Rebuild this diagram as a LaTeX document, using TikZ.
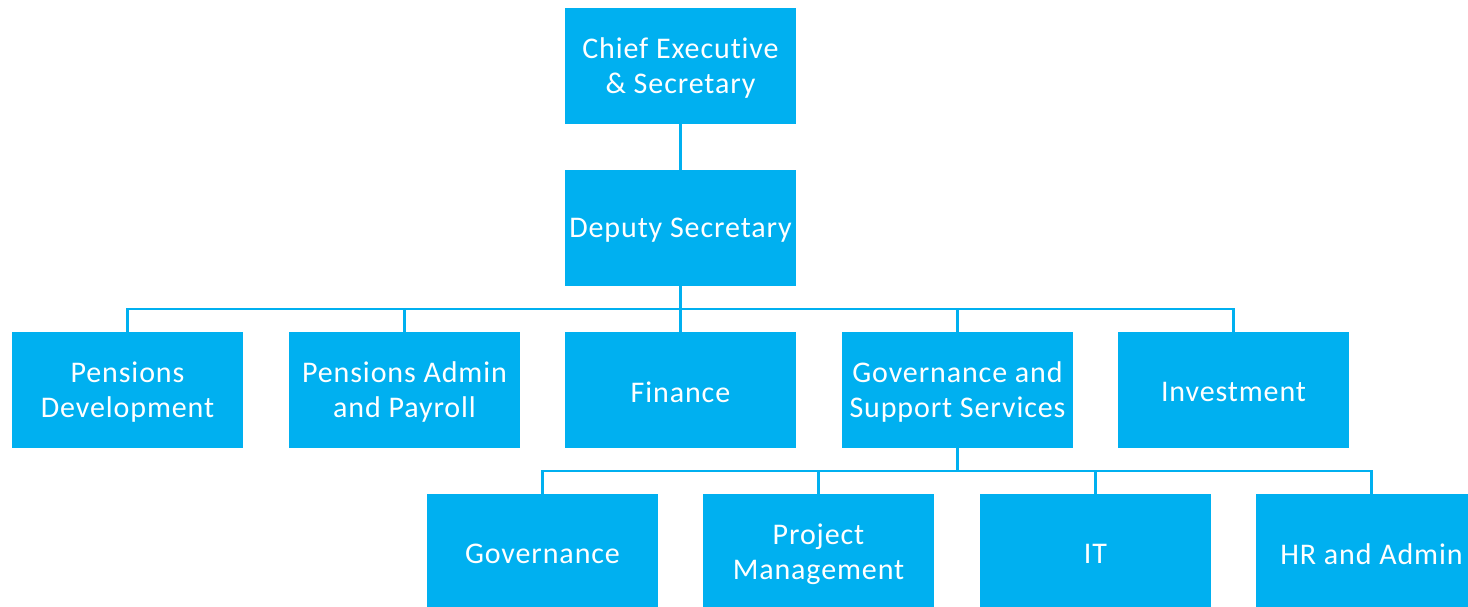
\documentclass[tikz,border=0pt]{standalone}
\usepackage{fontspec}
\setmainfont{Carlito}[LetterSpace=3,Ligatures={NoCommon}]
\definecolor{boxblue}{HTML}{00B0F0}
\begin{document}
\begin{tikzpicture}[x=1pt,y=-1pt,
  orgbox/.style={fill=boxblue,draw=none,minimum width=231pt,minimum height=116pt,inner sep=0pt,
    label={[text=white,align=center,font=\fontsize{30}{35}\selectfont,inner sep=0pt,yshift=-1.8pt]center:{#1}}},
  link/.style={draw=boxblue,line width=2.5pt}]
\useasboundingbox (0,0) rectangle (1468,607);
\clip (0,0) rectangle (1468,607);
\node[orgbox={Chief Executive\\\& Secretary}] (ceo) at (680.5,66) {};
\node[orgbox={Deputy Secretary}] (dep) at (680.5,228) {};
\node[orgbox={Pensions\\Development}] (pd) at (127.5,390) {};
\node[orgbox={Pensions Admin\\and Payroll}] (pa) at (404.5,390) {};
\node[orgbox={Finance}] (fin) at (680.5,390) {};
\node[orgbox={Governance and\\Support Services}] (gss) at (957.5,390) {};
\node[orgbox={Investment}] (inv) at (1233.5,390) {};
\node[orgbox={Governance}] (gov) at (542.5,552) {};
\node[orgbox={Project\\Management}] (pm) at (818.5,552) {};
\node[orgbox={IT}] (it) at (1095.5,552) {};
\node[orgbox={HR and Admin}] (hr) at (1371.5,552) {};
\coordinate (b1) at (680.5,309);
\coordinate (b2) at (957.5,471);
\draw[link] (ceo.south) -- (dep.north);
\draw[link] (dep.south) -- (b1);
\foreach \n in {pd,pa,fin,gss,inv} \draw[link] (b1) -| (\n.north);
\draw[link] (gss.south) -- (b2);
\foreach \n in {gov,pm,it,hr} \draw[link] (b2) -| (\n.north);
\end{tikzpicture}
\end{document}
